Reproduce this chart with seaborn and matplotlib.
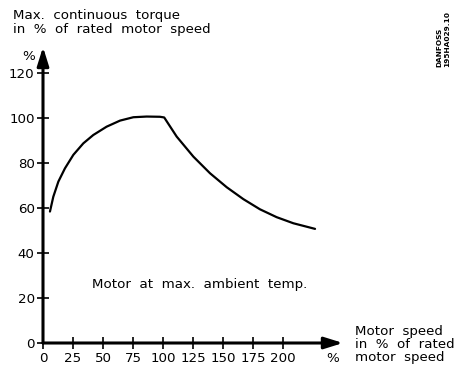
import matplotlib
matplotlib.use("Agg")
import matplotlib.pyplot as plt
import seaborn as sns
import pandas as pd

# Torque derating curve (max. continuous torque vs. motor speed, both in %)
speed_pct = [5.8, 8.6, 12.8, 18.3, 25.3, 33.6, 41.9, 53, 64.2, 75.3, 86.4, 97.5, 101,
             111.4, 125.3, 139.2, 153.1, 167, 180.8, 194.7, 208.6, 226.7]
torque_pct = [58.4, 65.0, 71.7, 77.6, 83.6, 88.7, 92.4, 96.1, 98.8, 100.3, 100.6, 100.5, 100.2,
              91.7, 82.8, 75.4, 69.2, 63.9, 59.4, 55.9, 53.2, 50.7]

x_ticks = [0, 25, 50, 75, 100, 125, 150, 175, 200]
y_ticks = [0, 20, 40, 60, 80, 100, 120]

sns.set_theme(style="white")
plt.rcParams["font.family"] = ["DejaVu Sans"]
plt.rcParams["text.color"] = "black"

W, H = 454, 367
fig = plt.figure(figsize=(W / 100, H / 100), dpi=100)
ax = fig.add_axes([43 / W, (H - 343) / H, 300 / W, 296 / H])

df = pd.DataFrame({"speed": speed_pct, "torque": torque_pct})
sns.lineplot(data=df, x="speed", y="torque", sort=False, color="black", lw=1.6, ax=ax)

ax.set_xlim(0, 250)
ax.set_ylim(0, 131.5)
for s in ax.spines.values():
    s.set_visible(False)

ax.set_xticks(x_ticks)
ax.set_xticklabels([str(v) for v in x_ticks])
ax.set_yticks(y_ticks)
ax.set_yticklabels([str(v) for v in y_ticks])
ax.tick_params(axis="both", direction="inout", length=9, width=1.2, color="black",
               labelsize=9.6, labelcolor="black", bottom=True, left=True)
ax.tick_params(axis="x", pad=2)
ax.tick_params(axis="y", pad=1.5)
ax.set_xlabel("")
ax.set_ylabel("")

# Axis arrows
arrow = dict(arrowstyle="-|>,head_length=0.8,head_width=0.25", lw=2.2, color="black",
             shrinkA=0, shrinkB=0, mutation_scale=14)
ax.annotate("", xy=(250, 0), xytext=(0, 0), arrowprops=arrow, annotation_clip=False)
ax.annotate("", xy=(0, 131.5), xytext=(0, 0), arrowprops=arrow, annotation_clip=False)

fs = 9.6
fig.text(13 / W, 1 - 15.5 / H, "Max.  continuous  torque", fontsize=fs, va="center", ha="left")
fig.text(13 / W, 1 - 30 / H, "in  %  of  rated  motor  speed", fontsize=fs, va="center", ha="left")
fig.text(35 / W, 1 - 56 / H, "%", fontsize=fs, va="center", ha="right")

fig.text(333 / W, 1 - 358 / H, "%", fontsize=fs, va="center", ha="center")
fig.text(355 / W, 1 - 331 / H, "Motor  speed", fontsize=fs, va="center", ha="left")
fig.text(355 / W, 1 - 344 / H, "in  %  of  rated", fontsize=fs, va="center", ha="left")
fig.text(355 / W, 1 - 358 / H, "motor  speed", fontsize=fs, va="center", ha="left")

ax.text(40.8, 25.8, "Motor  at  max.  ambient  temp.", fontsize=fs, va="center", ha="left")

fig.text(439 / W, 1 - 67 / H, "DANFOSS", fontsize=5.3, fontweight="bold", rotation=90,
         ha="center", va="bottom")
fig.text(447.5 / W, 1 - 67 / H, "195HA029.10", fontsize=5.3, fontweight="bold", rotation=90,
         ha="center", va="bottom")

fig.savefig("out.png", dpi=100, facecolor="white")
